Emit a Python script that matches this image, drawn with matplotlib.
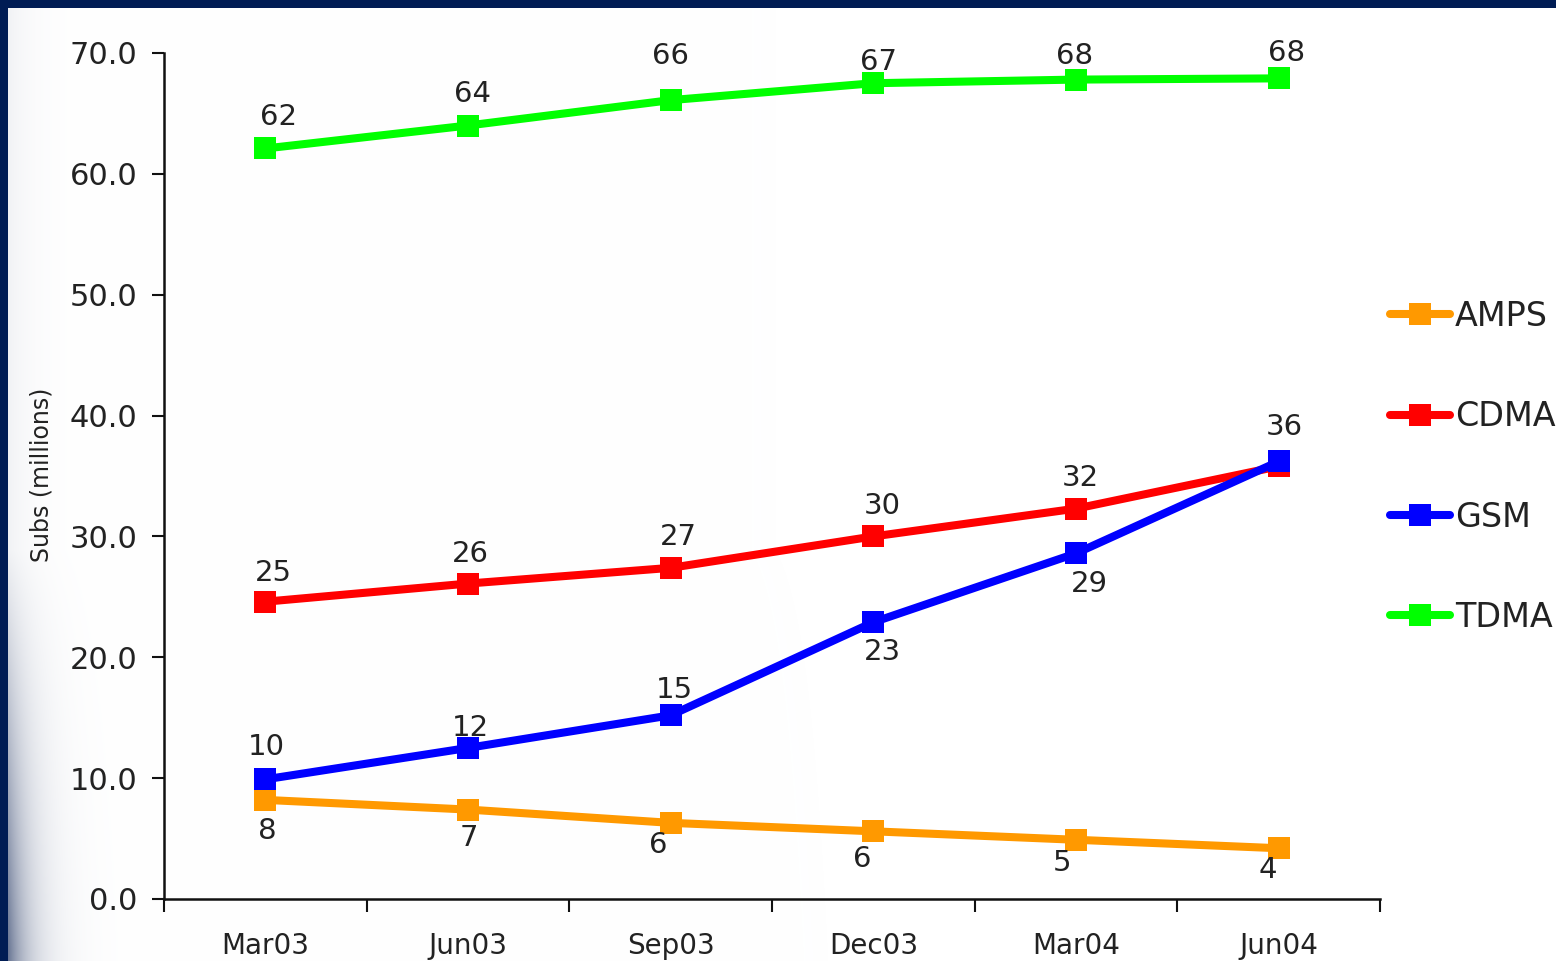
import numpy as np
import matplotlib
matplotlib.use("Agg")
import matplotlib.pyplot as plt

# ---------------- data ----------------
categories = ["Mar03", "Jun03", "Sep03", "Dec03", "Mar04", "Jun04"]
series_names = ["AMPS", "CDMA", "GSM", "TDMA"]
amps = [8.2, 7.4, 6.3, 5.6, 4.9, 4.2]
cdma = [24.6, 26.1, 27.4, 30.0, 32.3, 35.8]
gsm = [9.9, 12.5, 15.2, 22.9, 28.6, 36.2]
tdma = [62.1, 64.0, 66.1, 67.5, 67.8, 67.9]
amps_labels = ["8", "7", "6", "6", "5", "4"]
cdma_labels = ["25", "26", "27", "30", "32", ""]
gsm_labels = ["10", "12", "15", "23", "29", "36"]
tdma_labels = ["62", "64", "66", "67", "68", "68"]
y_ticks = [0, 10, 20, 30, 40, 50, 60, 70]

# ---------------- style ----------------
colors = ["#FF9900", "#FF0000", "#0000FF", "#00FF00"]
# label offsets in pixels (dx, dy up positive)
amps_off = [(2, -31), (1, -28), (-12, -22), (-11, -28), (-14, -23), (-11, -22)]
cdma_off = [(8, 29), (2, 30), (8, 31), (9, 30), (4, 31), (0, 0)]
gsm_off = [(1, 32), (2, 20), (4, 25), (9, -30), (13, -31), (6, 34)]
tdma_off = [(13, 31), (5, 32), (0, 44), (5, 21), (-1, 24), (8, 25)]

plt.rcParams["font.family"] = ["DejaVu Sans"]
W, H = 1556, 961
fig = plt.figure(figsize=(W / 100, H / 100), dpi=100)
fig.patch.set_facecolor("white")

# background frame (navy top/left bar with soft gradient at lower left)
bg = fig.add_axes([0, 0, 1, 1], zorder=-10)
bg.set_axis_off()
img = np.ones((H, W, 3))
navy = np.array([0x00, 0x1C, 0x54]) / 255.0
yy, xx = np.mgrid[0:H, 0:W]
strength = np.clip((yy - 550) / 400.0, 0, 1) * 0.75 + 0.08
fade = np.exp(-np.clip(xx - 8, 0, None) / 22.0) * strength
fade = np.clip(fade, 0, 1)[..., None]
grey_blue = np.array([0.30, 0.36, 0.50])
img = img * (1 - fade) + grey_blue * fade
img[:8, :, :] = navy
img[:, :8, :] = navy
bg.imshow(img, extent=[0, 1, 0, 1], aspect="auto", interpolation="bilinear")
bg.set_xlim(0, 1)
bg.set_ylim(0, 1)

ax = fig.add_axes([164 / W, 1 - 899 / H, (1380 - 164) / W, (899 - 53) / H])
ax.set_facecolor("none")
x = np.arange(len(categories))

all_vals = [amps, cdma, gsm, tdma]
all_labels = [amps_labels, cdma_labels, gsm_labels, tdma_labels]
all_offs = [amps_off, cdma_off, gsm_off, tdma_off]
for name, vals, col, labs, offs, z in zip(series_names, all_vals, colors, all_labels, all_offs, [3, 4, 5, 3]):
    ax.plot(x, vals, color=col, lw=5.8, marker="s", markersize=16.5,
            markeredgewidth=0, label=name, zorder=z, solid_capstyle="round")
    for xi, v, lab, (dx, dy) in zip(x, vals, labs, offs):
        if lab:
            ax.annotate(lab, (xi, v), xytext=(dx, dy), textcoords="offset pixels",
                        ha="center", va="center", fontsize=21, color="#222222", zorder=10)

ax.set_xlim(-0.5, len(categories) - 0.5)
ax.set_ylim(0, 70)
ax.set_yticks(y_ticks)
ax.set_yticklabels([f"{t:.1f}" for t in y_ticks])
ax.set_xticks(x)
ax.set_xticklabels(categories)
ax.set_xticks(np.arange(-0.5, len(categories)), minor=True)
ax.tick_params(axis="x", which="major", length=0, pad=24, labelsize=20, labelcolor="#222222")
ax.tick_params(axis="x", which="minor", length=9, width=1.5, direction="out", color="#111111")
ax.tick_params(axis="y", length=9, width=1.5, direction="out", pad=10, labelsize=22,
               labelcolor="#222222", color="#111111")
for s in ["top", "right"]:
    ax.spines[s].set_visible(False)
for s in ["left", "bottom"]:
    ax.spines[s].set_linewidth(1.8)
    ax.spines[s].set_color("#111111")

ax.set_ylabel("Subs (millions)", fontsize=17, color="#222222")
ax.yaxis.set_label_coords(-0.0905, 0.501)

leg = ax.legend(loc="upper left", bbox_to_anchor=(1390 / W, 1 - 300 / H),
                bbox_transform=fig.transFigure, frameon=False, fontsize=24,
                handlelength=1.8, handletextpad=0.15, labelspacing=2.02,
                borderpad=0, borderaxespad=0, markerscale=1.0)
for t in leg.get_texts():
    t.set_color("#222222")

fig.savefig("out.png", dpi=100)
